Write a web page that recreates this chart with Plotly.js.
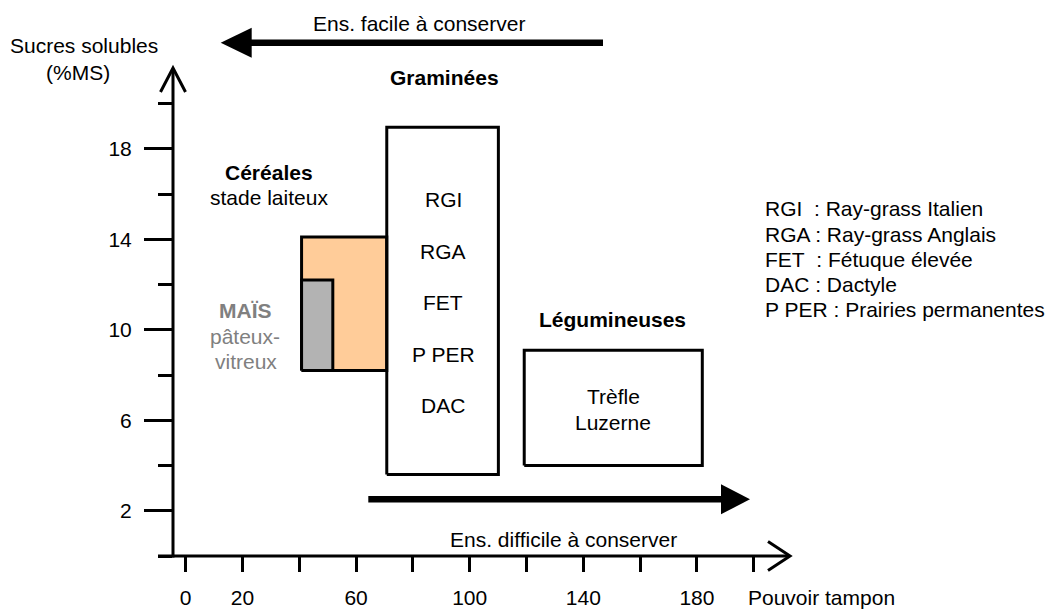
<!DOCTYPE html>
<html><head><meta charset="utf-8">
<script src="https://cdn.plot.ly/plotly-3.0.1.min.js"></script>
<style>html,body{margin:0;padding:0;background:#fff}</style>
</head><body><div id="chart" style="width:1050px;height:610px"></div>
<script>
// ---- data ----
const groups = ['Céréales stade laiteux', 'Maïs pâteux-vitreux', 'Graminées', 'Légumineuses'];
const tamponMin = [40.8, 40.8, 70.8, 119.2];
const tamponMax = [70.8, 51.8, 110.1, 181.9];
const sucresMin = [8.2, 8.2, 3.6, 4.0];
const sucresMax = [14.1, 12.2, 18.95, 9.1];
const groupFills = ['#FFCC99', '#B3B3B3', 'rgba(255,255,255,0)', 'rgba(255,255,255,0)'];

const xTickVals = [0, 20, 40, 60, 80, 100, 120, 140, 160, 180, 200];
const xTickText = ['0', '20', '', '60', '', '100', '', '140', '', '180', ''];
const yTickVals = [2, 6, 10, 14, 18];
const yTickText = ['2', '6', '10', '14', '18'];
const yMinorVals = [0, 4, 8, 12, 16, 20];

const grassCodes = ['RGI', 'RGA', 'FET', 'P PER', 'DAC'];
const legumeNames = ['Trèfle', 'Luzerne'];
const legendLines = ['RGI\u00a0\u00a0: Ray-grass Italien', 'RGA : Ray-grass Anglais',
  'FET\u00a0\u00a0: Fétuque élevée', 'DAC : Dactyle', 'P PER : Prairies permanentes'];

// ---- layout geometry (pixels) ----
const W = 1050, H = 610, L = 173, R = 257, T = 68, B = 54;
const PW = W - L - R, PH = H - T - B;
const PX = x => (x - L) / PW;
const PY = y => (H - B - y) / PH;
const FONT = 'Liberation Sans, Arial, sans-serif';
const FS = 21;

const traces = groups.map((g, i) => ({
  type: 'scatter', mode: 'lines', name: g, showlegend: false, hoverinfo: 'skip',
  x: [tamponMin[i], tamponMax[i], tamponMax[i], tamponMin[i], tamponMin[i]],
  y: [sucresMin[i], sucresMin[i], sucresMax[i], sucresMax[i], sucresMin[i]],
  fill: 'toself', fillcolor: groupFills[i],
  line: {color: '#000', width: 3}
}));

function txt(text, x, y, opts) {
  return Object.assign({
    text: text, xref: 'paper', yref: 'paper', x: PX(x), y: PY(y),
    xanchor: 'center', yanchor: 'middle', showarrow: false,
    font: {family: FONT, size: FS, color: '#000'}
  }, opts || {});
}

const annotations = [
  txt('Ens. facile à conserver', 419, 23),
  txt('<b>Graminées</b>', 444, 78),
  txt('<b>Céréales</b>', 269, 172),
  txt('stade laiteux', 268.5, 197),
  txt('<b>MAÏS</b>', 245, 310, {font: {family: FONT, size: FS, color: '#808080'}}),
  txt('pâteux-', 245, 336, {font: {family: FONT, size: FS, color: '#808080'}}),
  txt('vitreux', 246, 361, {font: {family: FONT, size: FS, color: '#808080'}}),
  txt('<b>Légumineuses</b>', 612, 319),
  txt('Ens. difficile à conserver', 563.5, 539),
  txt('Sucres solubles', 83.5, 46),
  txt('(%MS)', 77.5, 73),
  txt('Pouvoir tampon', 746, 597, {xanchor: 'left'})
];
grassCodes.forEach((c, i) => annotations.push(txt(c, 443, 199.5 + i * 51.5)));
legumeNames.forEach((c, i) => annotations.push(txt(c, 613, 396 + i * 26)));
legendLines.forEach((c, i) => annotations.push(txt(c, 763, 209 + i * 25, {xanchor: 'left'})));

const shapes = [
  // x axis line + open arrow
  {type: 'line', xref: 'paper', yref: 'paper', x0: PX(158), x1: PX(789), y0: PY(556), y1: PY(556), line: {color: '#000', width: 3}},
  {type: 'path', xref: 'paper', yref: 'paper',
   path: `M${PX(768)},${PY(541.5)} L${PX(790)},${PY(556)} L${PX(768)},${PY(570.5)}`, line: {color: '#000', width: 3}},
  // y axis line + open arrow
  {type: 'line', xref: 'paper', yref: 'paper', x0: PX(173), x1: PX(173), y0: PY(557.5), y1: PY(69), line: {color: '#000', width: 3}},
  {type: 'path', xref: 'paper', yref: 'paper',
   path: `M${PX(160.5)},${PY(92)} L${PX(173)},${PY(68)} L${PX(185.5)},${PY(92)}`, line: {color: '#000', width: 3}},
  // top arrow (left)
  {type: 'line', xref: 'paper', yref: 'paper', x0: PX(603), x1: PX(248), y0: PY(42.7), y1: PY(42.7), line: {color: '#000', width: 6.5}},
  {type: 'path', xref: 'paper', yref: 'paper', fillcolor: '#000',
   path: `M${PX(220.7)},${PY(42.7)} L${PX(251.7)},${PY(27.7)} L${PX(251.7)},${PY(57.7)} Z`, line: {color: '#000', width: 0}},
  // bottom arrow (right)
  {type: 'line', xref: 'paper', yref: 'paper', x0: PX(368.3), x1: PX(724), y0: PY(499.3), y1: PY(499.3), line: {color: '#000', width: 6.5}},
  {type: 'path', xref: 'paper', yref: 'paper', fillcolor: '#000',
   path: `M${PX(750)},${PY(499.3)} L${PX(721)},${PY(484.3)} L${PX(721)},${PY(514.3)} Z`, line: {color: '#000', width: 0}}
];

const layout = {
  width: W, height: H,
  margin: {l: L, r: R, t: T, b: B, pad: 0},
  paper_bgcolor: '#fff', plot_bgcolor: 'rgba(0,0,0,0)',
  showlegend: false,
  font: {family: FONT, size: FS, color: '#000'},
  xaxis: {
    range: [(L - 185.7) / 2.84, (W - R - 185.7) / 2.84],
    showline: false, showgrid: false, zeroline: false,
    tickmode: 'array', tickvals: xTickVals, ticktext: xTickText,
    ticks: 'outside', ticklen: 15, tickwidth: 3, tickcolor: '#000',
    ticklabelstandoff: 8,
    tickfont: {family: FONT, size: FS, color: '#000'},
    fixedrange: true
  },
  yaxis: {
    range: [0, PH / 22.62],
    showline: false, showgrid: false, zeroline: false,
    tickmode: 'array', tickvals: yTickVals, ticktext: yTickText,
    ticks: 'outside', ticklen: 28, tickwidth: 3, tickcolor: '#000',
    minor: {tickmode: 'array', tickvals: yMinorVals, ticks: 'outside', ticklen: 14, tickwidth: 3, tickcolor: '#000', showgrid: false},
    ticklabelstandoff: 8,
    tickfont: {family: FONT, size: FS, color: '#000'},
    fixedrange: true
  },
  shapes: shapes,
  annotations: annotations
};

Plotly.newPlot('chart', traces, layout, {staticPlot: true, displayModeBar: false});
</script>
</body></html>
